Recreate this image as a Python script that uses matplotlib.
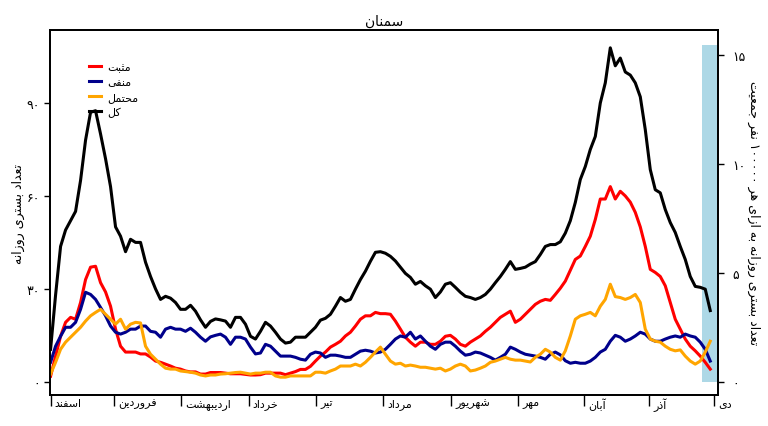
import numpy as np
import matplotlib
matplotlib.use("Agg")
import matplotlib.pyplot as plt
from matplotlib.ticker import FixedLocator, FuncFormatter
from matplotlib.transforms import ScaledTranslation

plt.rcParams['font.family'] = 'DejaVu Sans'
plt.rcParams['axes.linewidth'] = 1.3

# contextual forms: isolated, final, initial, medial (None = does not join to the left)
FORMS = {
    'ا': ('\uFE8D', '\uFE8E', None, None),
    'آ': ('\uFE81', '\uFE82', None, None),
    'ب': ('\uFE8F', '\uFE90', '\uFE91', '\uFE92'),
    'ت': ('\uFE95', '\uFE96', '\uFE97', '\uFE98'),
    'ث': ('\uFE99', '\uFE9A', '\uFE9B', '\uFE9C'),
    'ج': ('\uFE9D', '\uFE9E', '\uFE9F', '\uFEA0'),
    'ح': ('\uFEA1', '\uFEA2', '\uFEA3', '\uFEA4'),
    'خ': ('\uFEA5', '\uFEA6', '\uFEA7', '\uFEA8'),
    'د': ('\uFEA9', '\uFEAA', None, None),
    'ذ': ('\uFEAB', '\uFEAC', None, None),
    'ر': ('\uFEAD', '\uFEAE', None, None),
    'ز': ('\uFEAF', '\uFEB0', None, None),
    'س': ('\uFEB1', '\uFEB2', '\uFEB3', '\uFEB4'),
    'ش': ('\uFEB5', '\uFEB6', '\uFEB7', '\uFEB8'),
    'ع': ('\uFEC9', '\uFECA', '\uFECB', '\uFECC'),
    'ف': ('\uFED1', '\uFED2', '\uFED3', '\uFED4'),
    'ک': ('\uFB8E', '\uFB8F', '\uFB90', '\uFB91'),
    'ل': ('\uFEDD', '\uFEDE', '\uFEDF', '\uFEE0'),
    'م': ('\uFEE1', '\uFEE2', '\uFEE3', '\uFEE4'),
    'ن': ('\uFEE5', '\uFEE6', '\uFEE7', '\uFEE8'),
    'ه': ('\uFEE9', '\uFEEA', '\uFEEB', '\uFEEC'),
    'و': ('\uFEED', '\uFEEE', None, None),
    'ی': ('\uFBFC', '\uFBFD', '\uFBFE', '\uFBFF'),
}
FA_DIGITS = str.maketrans('0123456789', '۰۱۲۳۴۵۶۷۸۹')


def shape_word(w):
    out = []
    for i, ch in enumerate(w):
        f = FORMS.get(ch)
        if f is None:
            out.append(ch)
            continue
        prev = i > 0 and w[i - 1] in FORMS and FORMS[w[i - 1]][2] is not None
        nxt = i < len(w) - 1 and w[i + 1] in FORMS and f[2] is not None
        if prev and nxt:
            out.append(f[3])
        elif prev:
            out.append(f[1])
        elif nxt:
            out.append(f[2])
        else:
            out.append(f[0])
    return ''.join(out)


def fa(text):
    # shape and put an RTL line into visual (left-to-right) order
    tokens = []
    for word in text.split(' '):
        if word and word[0] in FORMS:
            tokens.append(shape_word(word)[::-1])
        else:
            tokens.append(word.translate(FA_DIGITS))
    return ' '.join(tokens[::-1])


# day index counted from 1 Esfand 1398, one sample about every 2.3 days
days = np.linspace(0, 303.2, 133)

total = [10.5, 28, 43.7, 49, 52, 55, 65, 78, 87, 87.5,
         80, 72, 63, 50, 47, 42, 46, 45, 45, 38.6,
         34, 30, 26.6, 27.6, 27, 25.6, 23.4, 23.4, 24.7, 22.8,
         20, 17.6, 19.5, 20.3, 20, 19.6, 17.6, 20.8, 20.8, 18.6,
         14.7, 13.8, 16.3, 19.2, 18, 16, 13.8, 12.5, 12.8, 14.4,
         14.4, 14.4, 16, 17.6, 19.9, 20.5, 21.8, 24.4, 27.2, 26,
         26.6, 29.9, 33, 35.7, 38.9, 41.8, 42, 41.5, 40.5, 39,
         37, 35, 33.7, 31.5, 32.4, 31, 29.9, 27.2, 29, 31.5,
         32, 30.5, 28.9, 27.6, 27.2, 26.6, 27.2, 28.2, 29.9, 32,
         34, 36.3, 38.8, 36.3, 36.6, 37, 38, 38.8, 41.1, 43.7,
         44.3, 44.3, 45.2, 48, 52, 57.9, 65.3, 69.5, 75, 79.2,
         90, 96.5, 107.8, 102, 104.5, 100, 99, 96.5, 92, 81.4,
         68.5, 62, 61, 55.6, 51.4, 48.2, 43.7, 39.5, 34, 30.8,
         30.5, 29.9, 23]

positive = [1.8, 8.3, 14.7, 19.2, 20.8, 20.2, 25.6, 33, 37, 37.3,
            32, 29, 24.4, 17, 11.5, 9.6, 9.6, 9.6, 9, 9,
            8, 6.7, 6.3, 5.7, 5.1, 4.4, 4.1, 3.5, 3.2, 3.2,
            2.5, 2.5, 3, 3, 3, 2.8, 2.6, 2.6, 2.6, 2.4,
            2.2, 2.2, 2.3, 2.8, 2.8, 2.8, 2.8, 2.3, 2.8, 3.3,
            4, 4, 5, 6.7, 8.3, 9.6, 11.2, 12.1, 13.1, 14.8,
            16, 18, 20.2, 21.3, 21.3, 22.4, 22, 22, 21.8, 19.6,
            17, 14.4, 12.8, 11.5, 12.8, 12.8, 12.1, 12.1, 13.1, 14.7,
            15, 13.8, 12.1, 11.5, 12.8, 13.8, 14.8, 16.3, 17.6, 19.2,
            20.8, 21.8, 22.8, 19.2, 20.2, 21.8, 23.4, 25, 26, 26.6,
            26.3, 28.2, 30.2, 32.5, 36, 39.5, 40.6, 43.7, 47, 52.4,
            59, 59, 63, 59, 61.5, 60, 58, 54.7, 50, 43.7,
            36.3, 35.3, 34, 31, 25.6, 20.2, 17, 13.8, 11.5, 10,
            8.3, 6.3, 4.1]

negative = [6.3, 11.5, 14.7, 17.6, 17.6, 19.2, 23.4, 28.9, 28.2, 26.6,
            24, 21.3, 18, 16, 15.4, 16, 17, 17, 18, 18,
            16.3, 16, 14.4, 17, 17.6, 17, 17, 16.3, 17.3, 16,
            14.4, 13.1, 14.5, 15, 15.4, 14.4, 12.1, 14.4, 14.4, 13.8,
            11.2, 9, 9.3, 12.1, 11.5, 9.9, 8.3, 8.3, 8.3, 7.9,
            7.3, 7, 8.9, 9.6, 9.3, 7.9, 8.6, 8.6, 8.3, 7.9,
            7.9, 8.9, 9.9, 10.2, 9.9, 9.3, 9.6, 10.5, 12.1, 13.8,
            14.8, 14.4, 16, 13.8, 14.8, 13.1, 11.5, 10.5, 12.1, 12.8,
            12.8, 11.5, 9.9, 8.6, 8.9, 9.6, 9.3, 8.6, 7.9, 7,
            7.9, 8.9, 11.2, 10.5, 9.6, 8.9, 8.6, 8.3, 7.9, 7.3,
            8.9, 9.6, 8.7, 6.8, 6, 6.3, 6, 6, 6.7, 7.9,
            9.6, 10.5, 13.1, 15, 14.4, 13.1, 13.8, 14.8, 16, 15.4,
            13.8, 13.1, 13.1, 13.8, 14.4, 14.8, 14.4, 15.4, 14.8, 14.4,
            12.8, 10.5, 6.7]

probable = [2.5, 6.3, 10.5, 12.8, 14.4, 16, 17.6, 19.6, 21.3, 22.4,
            23.4, 21.8, 20.2, 18.6, 20.2, 17, 18.6, 19.2, 19, 11.5,
            8.9, 7.3, 5.7, 4.4, 4.1, 4.1, 3.5, 3.3, 3.1, 2.8,
            2.2, 1.9, 2.2, 2.2, 2.5, 2.6, 2.8, 3, 3.1, 2.8,
            2.5, 2.8, 2.8, 3.1, 3.1, 1.9, 1.5, 1.5, 1.9, 1.9,
            1.9, 1.9, 1.9, 3.1, 3.1, 2.8, 3.5, 4.1, 5.1, 5.1,
            5.1, 5.7, 5.1, 6.3, 7.9, 9.6, 11.2, 8.9, 6.7, 5.7,
            6, 5.1, 5.4, 5.1, 4.7, 4.7, 4.4, 4.1, 4.4, 3.5,
            4.1, 5.1, 5.7, 5.1, 3.5, 3.8, 4.4, 5.1, 6.3, 6.7,
            7.3, 7.9, 7.3, 7, 7, 6.7, 6.4, 7.9, 8.9, 10.5,
            9.6, 7.9, 7, 10, 14.8, 20.2, 21.3, 21.8, 22.4, 21.3,
            24.4, 26.6, 31.5, 27.5, 27.2, 26.6, 27.2, 28.2, 25.6, 17,
            13.8, 13.1, 12.8, 11.5, 10.5, 10, 10.3, 8.3, 6.7, 5.7,
            6.7, 9.6, 13.1]

series_names = ["مثبت", "منفی", "محتمل", "کل"]
series_colors = ["red", "darkblue", "orange", "black"]

month_names = ["اسفند", "فروردین", "اردیبهشت", "خرداد", "تیر", "مرداد",
               "شهریور", "مهر", "آبان", "آذر", "دی"]
month_starts = [0, 29, 60, 91, 122, 153, 184, 215, 245, 275, 305]

population = 702360          # Semnan province
bar_day, bar_width, bar_height = 303, 7, 15.5

left_ticks = [0, 30, 60, 90]
right_ticks = [0, 5, 10, 15]

fig, ax = plt.subplots(figsize=(7.68, 4.27), dpi=100)
fig.subplots_adjust(left=0.065, right=0.935, bottom=0.073, top=0.927)
ax2 = ax.twinx()

for vals, name, col in zip([positive, negative, probable, total], series_names, series_colors):
    ax.plot(days, vals, color=col, lw=2.2, label=fa(name))

ax2.bar([bar_day], [bar_height], width=bar_width, color="lightblue", zorder=0)

ax.set_xlim(-0.3, 306.8)
ax.set_ylim(-4.2, 113.5)
scale = 1e5 / population
ax2.set_ylim(ax.get_ylim()[0] * scale, ax.get_ylim()[1] * scale)

ax.set_zorder(ax2.get_zorder() + 1)
ax.patch.set_visible(False)

fmt = FuncFormatter(lambda v, p: str(int(round(v))).translate(FA_DIGITS))
ax.yaxis.set_major_locator(FixedLocator(left_ticks))
ax.yaxis.set_major_formatter(fmt)
ax2.yaxis.set_major_locator(FixedLocator(right_ticks))
ax2.yaxis.set_major_formatter(fmt)
ax.tick_params(axis='y', length=4, width=1, labelsize=9, pad=3)
ax2.tick_params(axis='y', length=4, width=1, labelsize=9, pad=6)

ax.set_xticks(month_starts)
ax.set_xticklabels([fa(m) for m in month_names], fontsize=8)
ax.tick_params(axis='x', length=8, width=1, pad=-6)
shift = ScaledTranslation(3 / 72, 0, fig.dpi_scale_trans)
for lab in ax.get_xticklabels():
    lab.set_horizontalalignment('left')
    lab.set_transform(lab.get_transform() + shift)

ax.set_ylabel(fa("تعداد بستری روزانه"), fontsize=9, labelpad=1)
ax2.set_ylabel(fa("تعداد بستری روزانه به ازای هر 100000 نفر جمعیت"),
               fontsize=9, rotation=270, labelpad=11)
ax.set_title(fa("سمنان"), fontsize=10, pad=4)

leg = ax.legend(loc="upper left", bbox_to_anchor=(0.043, 0.94), frameon=False,
                fontsize=8, handlelength=1.1, labelspacing=0.45, handletextpad=0.6)

plt.savefig("out.png", dpi=100)
